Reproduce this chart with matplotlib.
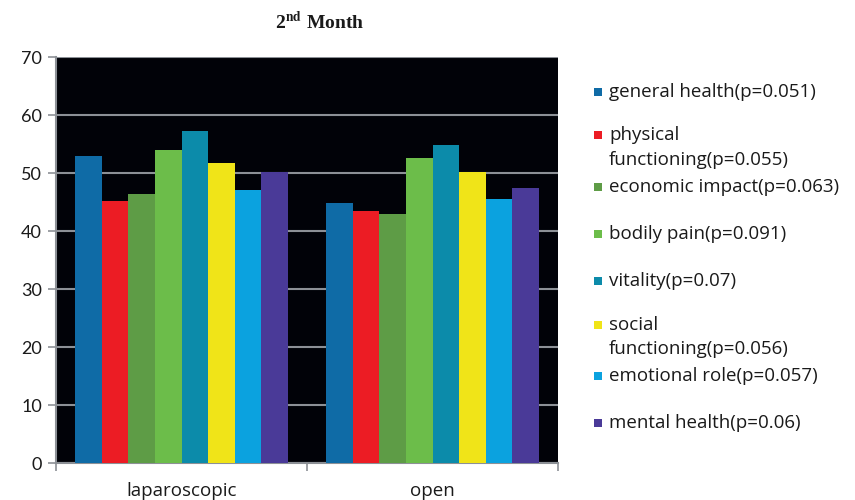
import matplotlib
matplotlib.use("Agg")
import matplotlib.pyplot as plt
import numpy as np
from matplotlib.patches import Rectangle

categories = ["laparoscopic", "open"]
series = ["general health(p=0.051)", "physical\nfunctioning(p=0.055)", "economic impact(p=0.063)",
          "bodily pain(p=0.091)", "vitality(p=0.07)", "social\nfunctioning(p=0.056)",
          "emotional role(p=0.057)", "mental health(p=0.06)"]
general_health = [53.0, 44.9]
physical_functioning = [45.2, 43.4]
economic_impact = [46.4, 43.0]
bodily_pain = [53.9, 52.6]
vitality = [57.3, 54.8]
social_functioning = [51.8, 50.2]
emotional_role = [47.1, 45.5]
mental_health = [50.2, 47.4]
values = [general_health, physical_functioning, economic_impact, bodily_pain,
          vitality, social_functioning, emotional_role, mental_health]
colors = ["#0F6BA6", "#EC1C24", "#5E9C46", "#6CBD4A", "#0C8BAA", "#F0E418", "#0BA2DF", "#4A3A98"]
yticks = [0, 10, 20, 30, 40, 50, 60, 70]

NUMFONT = "Lato"
FONT = "Open Sans"
TXT = "#1a1a1a"
GRID = "#8C9096"

plt.rcParams["mathtext.fontset"] = "stix"

fig = plt.figure(figsize=(8.55, 5.0), dpi=100)
ax = fig.add_axes([56/855, 37/500, 502/855, 406/500])
ax.set_facecolor("#010208")

w = 0.1056
x = np.arange(len(categories))
for j, (vals, c) in enumerate(zip(values, colors)):
    ax.bar(x + (j - 3.5) * w, vals, width=w, color=c, edgecolor="none", zorder=3)

ax.set_xlim(-0.5, 1.5)
ax.set_ylim(0, 70)
ax.set_yticks(yticks)
ax.set_yticklabels([str(t) for t in yticks], fontfamily=NUMFONT, fontsize=13, color=TXT)
ax.yaxis.grid(True, color=GRID, linewidth=1.5, zorder=1)
ax.set_axisbelow(True)
ax.tick_params(axis="y", length=6, width=1.2, color=GRID, pad=4)

ax.set_xticks(x)
ax.set_xticklabels(categories, fontfamily=FONT, fontsize=13.5, color=TXT)
ax.tick_params(axis="x", which="major", length=0, pad=14)
ax.set_xticks([-0.5, 0.5, 1.5], minor=True)
ax.tick_params(axis="x", which="minor", length=6, width=1.2, color=GRID)

for s in ["top", "right"]:
    ax.spines[s].set_visible(False)
ax.spines["left"].set_color(GRID)
ax.spines["left"].set_linewidth(1.5)
ax.spines["bottom"].set_color(GRID)
ax.spines["bottom"].set_linewidth(1.5)

fig.text(320/855, 1 - 22/500, r"2$^{\mathbf{nd}}$ Month", ha="center", va="center",
         fontfamily="Liberation Serif", fontweight="bold", fontsize=14, color=TXT)

# legend
slot0 = 92
step = 47.3
for i, (lab, c) in enumerate(zip(series, colors)):
    yc = slot0 + i * step
    lines = lab.split("\n")
    if len(lines) > 1:
        yc -= 4
    fig.patches.append(Rectangle((594/855, 1 - (yc + 4)/500), 8/855, 8/500,
                                 transform=fig.transFigure, facecolor=c, edgecolor="none"))
    for k, ln in enumerate(lines):
        fig.text(609/855, 1 - (yc + k * 25)/500, ln, ha="left", va="center",
                 fontfamily=FONT, fontsize=13.5, color=TXT)

fig.savefig("out.png", dpi=100, facecolor="white")
